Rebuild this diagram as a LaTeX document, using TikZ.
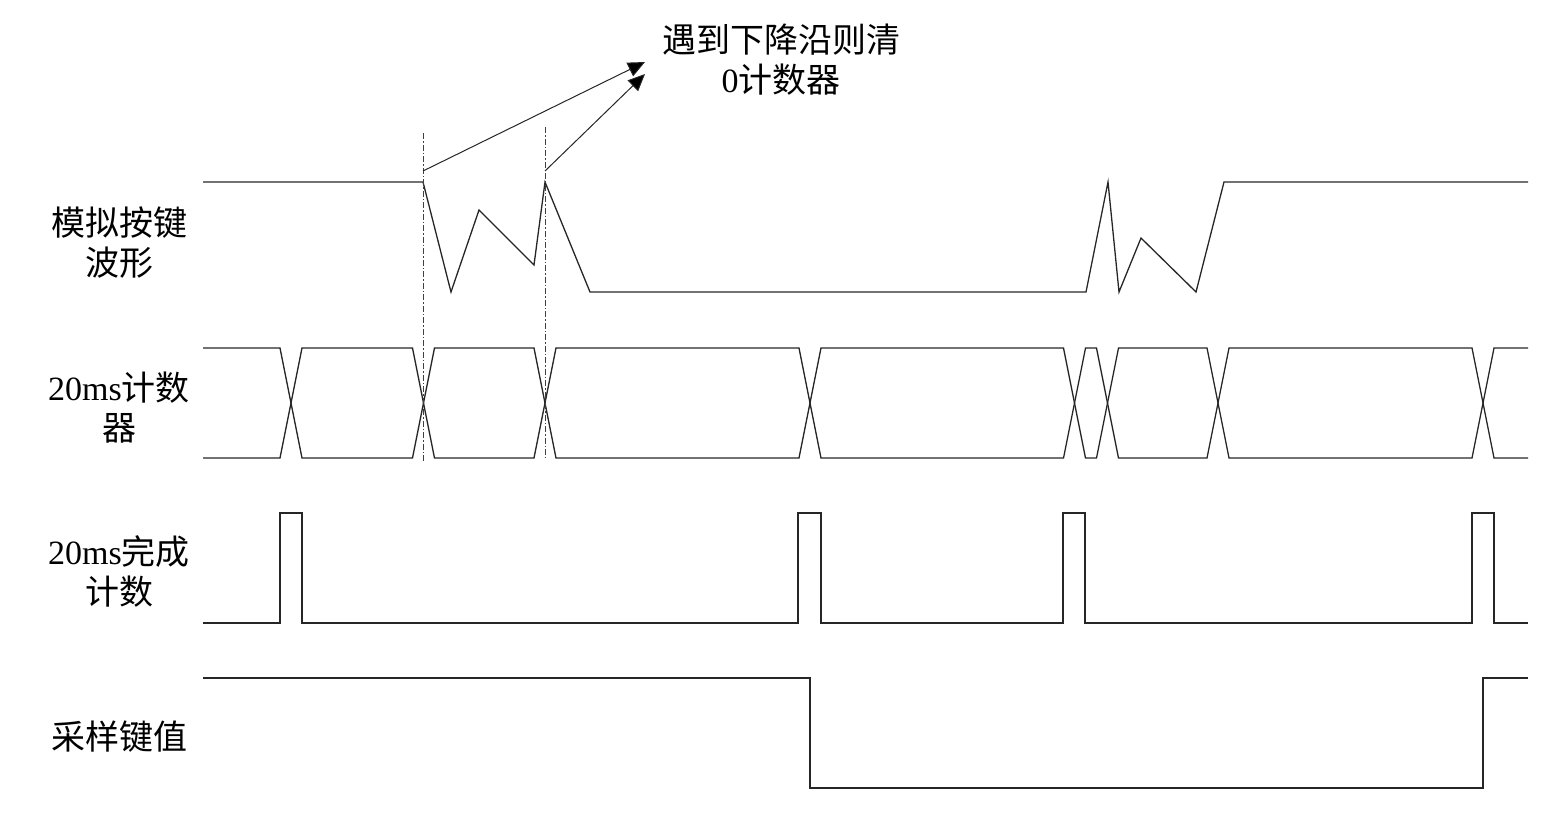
\documentclass[tikz,border=0pt]{standalone}
\usepackage{fontspec}
\setmainfont{Liberation Serif}
\newfontfamily\cjk{Noto Sans CJK SC}
\usetikzlibrary{arrows.meta}
\begin{document}
\begin{tikzpicture}[x=1pt,y=-1pt,
  wave/.style={line width=1.3pt,draw=black!85,line join=miter},
  guide/.style={line width=0.9pt,draw=black!75,dash pattern=on 6pt off 2pt on 1.5pt off 2pt},
  note/.style={line width=1pt,draw=black!85,-{Triangle[length=17pt,width=15pt,fill=black]}},
  lbl/.style={font=\fontsize{34}{40}\selectfont,align=center,inner sep=0pt},
]
\useasboundingbox (0,0) rectangle (1550,831);

% labels
\node[lbl] (l1) at (119,243) {{\cjk 模拟按键}\\{\cjk 波形}};
\node[lbl] (l2) at (119,408) {20ms{\cjk 计数}\\{\cjk 器}};
\node[lbl] (l3) at (119,571) {20ms{\cjk 完成}\\{\cjk 计数}};
\node[lbl] (l4) at (119,737) {\cjk 采样键值};
\node[lbl] (note) at (781,60) {{\cjk 遇到下降沿则清}\\0{\cjk 计数器}};

% row 1: analog key waveform
\draw[wave] (203,182) -- (423,182) -- (451,292) -- (479,210) -- (534,265) -- (545,182) -- (590,292)
  -- (1086,292) -- (1108,182) -- (1119,292) -- (1141,238) -- (1196,292) -- (1224,182) -- (1528,182);

% row 2: 20ms counter (bus)
\def\h{11}
\draw[wave] (203,348) -- (280,348) -- (291,403) -- (280,458) -- (203,458);
\foreach \a/\b in {291/423.5,423.5/545,545/810,810/1074.5,1074.5/1107.5,1107.5/1218,1218/1483}{
  \draw[wave] (\a,403) -- (\a+\h,348) -- (\b-\h,348) -- (\b,403) -- (\b-\h,458) -- (\a+\h,458) -- cycle;
}
\draw[wave] (1528,348) -- (1494,348) -- (1483,403) -- (1494,458) -- (1528,458);

% row 3: 20ms done pulses
\draw[wave] (203,623) -- (280,623) -- (280,513) -- (302,513) -- (302,623) -- (798,623) -- (798,513)
  -- (821,513) -- (821,623) -- (1063,623) -- (1063,513) -- (1085,513) -- (1085,623) -- (1472,623)
  -- (1472,513) -- (1494,513) -- (1494,623) -- (1528,623);

% row 4: sampled key value
\draw[wave] (203,678) -- (810,678) -- (810,788) -- (1483,788) -- (1483,678) -- (1528,678);

% guide lines
\coordinate (g1t) at (423,133);
\coordinate (g1b) at (423,462);
\coordinate (g2t) at (545,127);
\coordinate (g2b) at (545,458);
\draw[guide] (g1t) -- (g1b);
\draw[guide] (g2t) -- (g2b);

% annotation arrows
\coordinate (s1) at (423,171);
\coordinate (s2) at (545,171);
\coordinate (e1) at (645,62);
\coordinate (e2) at (645,74);
\draw[note] (s1) -- (e1);
\draw[note] (s2) -- (e2);
\end{tikzpicture}
\end{document}
